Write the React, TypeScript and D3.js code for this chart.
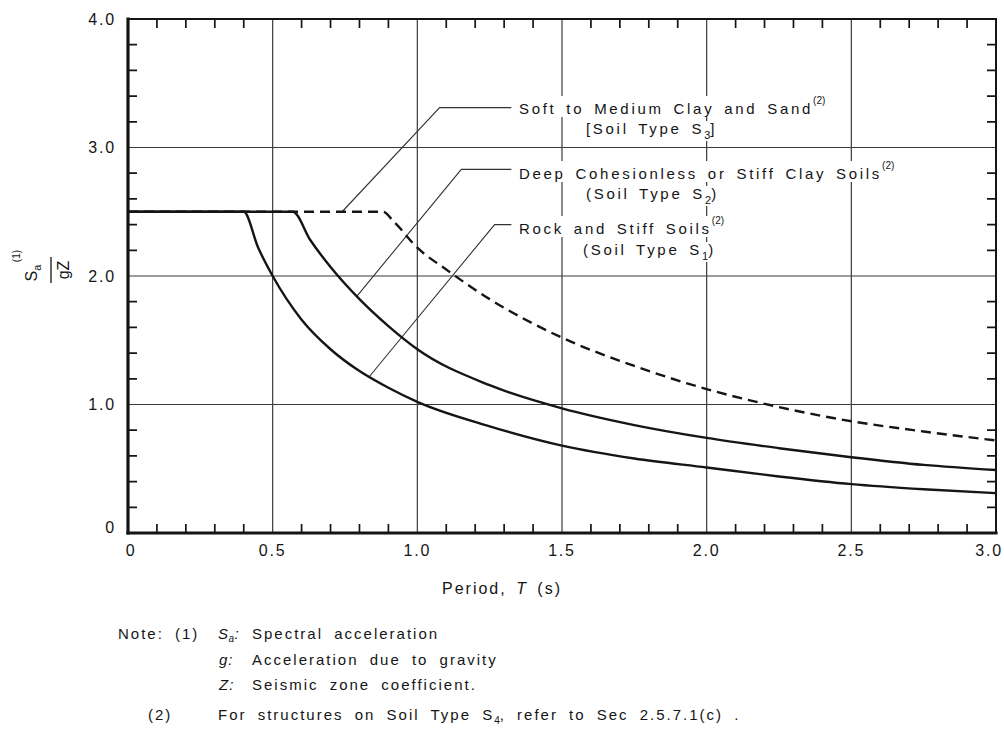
import { useRef, useEffect } from "react"
import * as d3 from "d3"

// Soil Type S1 (rock and stiff soils)
const s1Period = [0, 0.4, 0.45, 0.5, 0.6, 0.7, 0.8, 0.9, 1.0, 1.25, 1.5, 1.75, 2.0, 2.25, 2.5, 2.75, 3.0]
const s1Value = [2.5, 2.5, 2.22, 2.0, 1.66, 1.43, 1.26, 1.13, 1.02, 0.83, 0.68, 0.58, 0.51, 0.44, 0.38, 0.34, 0.31]

// Soil Type S2 (deep cohesionless or stiff clay)
const s2Period = [0, 0.57, 0.63, 0.7, 0.8, 0.9, 1.0, 1.25, 1.5, 1.75, 2.0, 2.25, 2.5, 2.75, 3.0]
const s2Value = [2.5, 2.5, 2.28, 2.07, 1.82, 1.61, 1.43, 1.15, 0.97, 0.84, 0.74, 0.66, 0.59, 0.53, 0.49]

// Soil Type S3 (soft to medium clay and sand), dashed
const s3Period = [0, 0.88, 0.92, 1.0, 1.1, 1.25, 1.5, 1.75, 2.0, 2.25, 2.5, 2.75, 3.0]
const s3Value = [2.5, 2.5, 2.42, 2.22, 2.05, 1.82, 1.52, 1.3, 1.12, 0.98, 0.87, 0.79, 0.72]

const xTicks = [0, 0.5, 1.0, 1.5, 2.0, 2.5, 3.0]
const xTickLabels = ["0", "0.5", "1.0", "1.5", "2.0", "2.5", "3.0"]
const yTicks = [0, 1, 2, 3, 4]
const yTickLabels = ["0", "1.0", "2.0", "3.0", "4.0"]
const xMinor = [0.1, 0.2, 0.3, 0.4, 0.6, 0.7, 0.8, 0.9, 1.1, 1.2, 1.3, 1.4, 1.6, 1.7, 1.8, 1.9, 2.1, 2.2, 2.3, 2.4, 2.6, 2.7, 2.8, 2.9]
const yMinor = [0.2, 0.4, 0.6, 0.8, 1.2, 1.4, 1.6, 1.8, 2.2, 2.4, 2.6, 2.8, 3.2, 3.4, 3.6, 3.8]

const FONT = "'Liberation Sans', Arial, sans-serif"
const INK = "#151515"

const App = () => {
  const svgRef = useRef<SVGSVGElement>(null)

  useEffect(() => {
    const svg = d3.select(svgRef.current)
    svg.selectAll("*").remove()

    const x = d3.scaleLinear().domain([0, 3]).range([128, 996])
    const y = d3.scaleLinear().domain([0, 4]).range([533, 19])

    svg.append("rect").attr("width", 1004).attr("height", 733).attr("fill", "#fff")

    // grid
    const grid = svg.append("g").attr("stroke", "#3a3a3a").attr("stroke-width", 1.2)
    xTicks.slice(1, -1).forEach((t) => {
      grid.append("line").attr("x1", x(t)).attr("x2", x(t)).attr("y1", y(4)).attr("y2", y(0))
    })
    yTicks.slice(1, -1).forEach((v) => {
      grid.append("line").attr("x1", x(0)).attr("x2", x(3)).attr("y1", y(v)).attr("y2", y(v))
    })

    // minor ticks pointing inward on all four sides
    const tickPath = d3.path()
    xMinor.forEach((t) => {
      tickPath.moveTo(x(t), y(4))
      tickPath.lineTo(x(t), y(4) + 9)
      tickPath.moveTo(x(t), y(0))
      tickPath.lineTo(x(t), y(0) - 9)
    })
    yMinor.forEach((v) => {
      tickPath.moveTo(x(0), y(v))
      tickPath.lineTo(x(0) + 9, y(v))
      tickPath.moveTo(x(3), y(v))
      tickPath.lineTo(x(3) - 9, y(v))
    })
    svg
      .append("path")
      .attr("d", tickPath.toString())
      .attr("fill", "none")
      .attr("stroke", INK)
      .attr("stroke-width", 1.7)

    // leader lines from labels to curves
    const leaders = [
      [[1.325, 3.31], [1.077, 3.31], [0.74, 2.5]],
      [[1.325, 2.83], [1.152, 2.83], [0.79, 1.84]],
      [[1.325, 2.4], [1.267, 2.4], [0.835, 1.22]],
    ]
    leaders.forEach((pts) => {
      svg
        .append("path")
        .attr("d", d3.line()(pts.map(([t, v]) => [x(t), y(v)]) as [number, number][]))
        .attr("fill", "none")
        .attr("stroke", "#333")
        .attr("stroke-width", 1.1)
    })

    const labelLine = (
      tx: number,
      ty: number,
      main: string,
      sub?: string,
      after?: string,
      sup?: string,
    ) => {
      const g = svg.append("g")
      const txt = g
        .append("text")
        .attr("x", tx)
        .attr("y", ty)
        .attr("font-family", FONT)
        .attr("font-size", 15)
        .attr("letter-spacing", 2.7)
        .attr("word-spacing", 3)
        .attr("fill", INK)
      txt.append("tspan").text(main)
      if (sub) {
        txt.append("tspan").attr("dy", 5).attr("font-size", 11).attr("letter-spacing", 0).text(sub)
        txt.append("tspan").attr("dy", -5).text(after || "")
      }
      if (sup) {
        txt.append("tspan").attr("dy", -10).attr("font-size", 10).attr("letter-spacing", 0).text(sup)
      }
      const bb = (txt.node() as SVGTextElement).getBBox()
      g.insert("rect", "text")
        .attr("x", bb.x - 4)
        .attr("y", bb.y + 1)
        .attr("width", bb.width + 8)
        .attr("height", bb.height - 1)
        .attr("fill", "#fff")
    }

    labelLine(519, 114, "Soft to Medium Clay and Sand", undefined, undefined, "(2)")
    labelLine(586, 134, "[Soil Type S", "3", "]")
    labelLine(519, 179, "Deep Cohesionless or Stiff Clay Soils", undefined, undefined, "(2)")
    labelLine(586, 199, "(Soil Type S", "2", ")")
    labelLine(519, 234, "Rock and Stiff Soils", undefined, undefined, "(2)")
    labelLine(583, 255, "(Soil Type S", "1", ")")

    // curves
    const line = d3
      .line<[number, number]>()
      .x((d) => x(d[0]))
      .y((d) => y(d[1]))
      .curve(d3.curveMonotoneX)

    const curves = [
      { t: s1Period, v: s1Value, dash: null },
      { t: s2Period, v: s2Value, dash: null },
      { t: s3Period, v: s3Value, dash: "10,6" },
    ]
    curves.forEach((c) => {
      svg
        .append("path")
        .datum(c.t.map((t, i) => [t, c.v[i]] as [number, number]))
        .attr("d", line)
        .attr("fill", "none")
        .attr("stroke", INK)
        .attr("stroke-width", 2.4)
        .attr("stroke-dasharray", c.dash)
    })

    // frame
    const frame = svg.append("g").attr("stroke", INK).attr("stroke-linecap", "square")
    frame.append("line").attr("x1", x(0)).attr("x2", x(3)).attr("y1", y(4)).attr("y2", y(4)).attr("stroke-width", 2)
    frame.append("line").attr("x1", x(3)).attr("x2", x(3)).attr("y1", y(4)).attr("y2", y(0)).attr("stroke-width", 2)
    frame.append("line").attr("x1", x(0)).attr("x2", x(0)).attr("y1", y(4)).attr("y2", y(0)).attr("stroke-width", 3.2)
    frame.append("line").attr("x1", x(0)).attr("x2", x(3)).attr("y1", y(0)).attr("y2", y(0)).attr("stroke-width", 3.2)

    // tick labels
    const tickText = svg
      .append("g")
      .attr("font-family", FONT)
      .attr("font-size", 16)
      .attr("letter-spacing", 1.8)
      .attr("fill", INK)
    xTicks.forEach((t, i) => {
      const last = i === xTicks.length - 1
      tickText
        .append("text")
        .attr("x", last ? 1003 : x(t) + (i === 0 ? 3 : 0))
        .attr("y", 556)
        .attr("text-anchor", last ? "end" : "middle")
        .text(xTickLabels[i])
    })
    yTicks.forEach((v, i) => {
      tickText
        .append("text")
        .attr("x", 116)
        .attr("y", y(v) - (v === 0 ? 6 : 0))
        .attr("dy", "0.35em")
        .attr("text-anchor", "end")
        .text(yTickLabels[i])
    })

    // x axis title
    const xt = svg
      .append("text")
      .attr("x", 502)
      .attr("y", 594)
      .attr("text-anchor", "middle")
      .attr("font-family", FONT)
      .attr("font-size", 16)
      .attr("letter-spacing", 2)
      .attr("word-spacing", 3)
      .attr("fill", INK)
    xt.append("tspan").text("Period, ")
    xt.append("tspan").attr("font-style", "italic").text("T")
    xt.append("tspan").text(" (s)")

    // y axis title: Sa(1) / gZ, rotated
    const yl = svg
      .append("g")
      .attr("transform", "translate(51,270) rotate(-90)")
      .attr("font-family", FONT)
      .attr("fill", INK)
    const sa = yl.append("text").attr("x", -3).attr("y", -14).attr("text-anchor", "middle").attr("font-size", 16)
    sa.append("tspan").text("S")
    sa.append("tspan").attr("font-size", 11).attr("dy", 4).text("a")
    yl.append("text")
      .attr("x", 14)
      .attr("y", -31)
      .attr("font-size", 10)
      .attr("text-anchor", "middle")
      .text("(1)")
    yl.append("line").attr("x1", -13).attr("x2", 13).attr("y1", 0).attr("y2", 0).attr("stroke", INK).attr("stroke-width", 1.3)
    yl.append("text")
      .attr("x", 0)
      .attr("y", 18)
      .attr("text-anchor", "middle")
      .attr("font-size", 16)
      .text("gZ")

    // notes
    const notes = svg
      .append("g")
      .attr("font-family", FONT)
      .attr("font-size", 15)
      .attr("letter-spacing", 2)
      .attr("word-spacing", 5)
      .attr("fill", INK)
    notes.append("text").attr("x", 118).attr("y", 639).text("Note: (1)")
    const n1 = notes.append("text").attr("x", 218).attr("y", 639).attr("font-style", "italic").attr("letter-spacing", 0.5)
    n1.append("tspan").text("S")
    n1.append("tspan").attr("font-size", 10).attr("dy", 3).text("a")
    n1.append("tspan").attr("dy", -3).text(":")
    notes.append("text").attr("x", 252).attr("y", 639).text("Spectral acceleration")
    notes.append("text").attr("x", 219).attr("y", 665).attr("font-style", "italic").attr("letter-spacing", 1).text("g:")
    notes.append("text").attr("x", 252).attr("y", 665).text("Acceleration due to gravity")
    notes.append("text").attr("x", 219).attr("y", 690).attr("font-style", "italic").attr("letter-spacing", 1).text("Z:")
    notes.append("text").attr("x", 252).attr("y", 690).text("Seismic zone coefficient.")
    notes.append("text").attr("x", 148).attr("y", 720).text("(2)")
    const n4 = notes.append("text").attr("x", 218).attr("y", 720)
    n4.append("tspan").text("For structures on Soil Type S")
    n4.append("tspan").attr("font-size", 10).attr("dy", 4).attr("letter-spacing", 0).text("4")
    n4.append("tspan").attr("dy", -4).text(", refer to Sec 2.5.7.1(c) .")
  }, [])

  return (
    <svg
      ref={svgRef}
      width={1004}
      height={733}
      style={{ position: "absolute", left: 0, top: 0, display: "block" }}
    />
  )
}

export default App
